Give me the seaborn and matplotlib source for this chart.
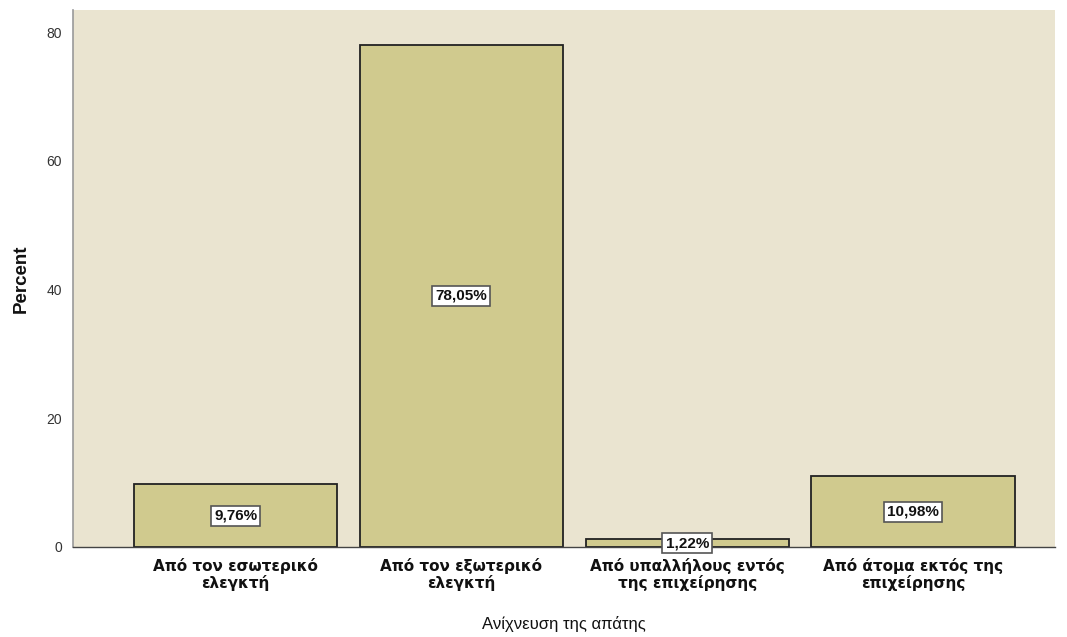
import matplotlib
matplotlib.use("Agg")
import matplotlib.pyplot as plt
import seaborn as sns
import pandas as pd

categories = ["Από τον εσωτερικό\nελεγκτή", "Από τον εξωτερικό\nελεγκτή",
              "Από υπαλλήλους εντός\nτης επιχείρησης", "Από άτομα εκτός της\nεπιχείρησης"]
percents = [9.76, 78.05, 1.22, 10.98]
labels = ["9,76%", "78,05%", "1,22%", "10,98%"]
yticks = [0, 20, 40, 60, 80]

sns.set_theme(style="white")
plt.rcParams['font.family'] = ['Liberation Sans', 'DejaVu Sans']

df = pd.DataFrame({"cat": categories, "pct": percents})
fig = plt.figure(figsize=(10.67, 6.37), dpi=100)
ax = fig.add_axes([0.0684, 0.1413, 0.9206, 0.8427])
ax.set_facecolor("#EAE4D0")
sns.barplot(data=df, x="cat", y="pct", color="#D0CA8E", saturation=1, width=0.9,
            edgecolor="#222222", linewidth=1.3, ax=ax)
for i, (v, lab) in enumerate(zip(percents, labels)):
    ax.text(i, v / 2, lab, ha="center", va="center", fontsize=11, fontweight="bold",
            color="#111111",
            bbox=dict(boxstyle="square,pad=0.2", facecolor="white", edgecolor="#555555", linewidth=1.2))
ax.set_xlim(-0.72, 3.63)
ax.set_ylim(0, 83.4)
ax.set_yticks(yticks)
ax.set_yticklabels([str(t) for t in yticks], fontsize=10, color="#333333")
ax.tick_params(axis="both", length=0)
ax.tick_params(axis="y", pad=8)
ax.tick_params(axis="x", pad=8)
for t in ax.get_xticklabels():
    t.set_fontfamily("DejaVu Sans")
    t.set_fontweight("bold")
    t.set_fontsize(11)
    t.set_color("#111111")
    t.set_linespacing(1.1)
ax.set_xlabel("Ανίχνευση της απάτης", fontsize=12, color="#111111", labelpad=18)
ax.set_ylabel("Percent", fontsize=13.5, fontweight="bold", color="#111111", labelpad=12)
for s in ["top", "right"]:
    ax.spines[s].set_visible(False)
ax.spines["left"].set_color("#999999")
ax.spines["left"].set_linewidth(1.2)
ax.spines["bottom"].set_color("#444444")
ax.spines["bottom"].set_linewidth(1.0)
fig.savefig("out.png", dpi=100)
